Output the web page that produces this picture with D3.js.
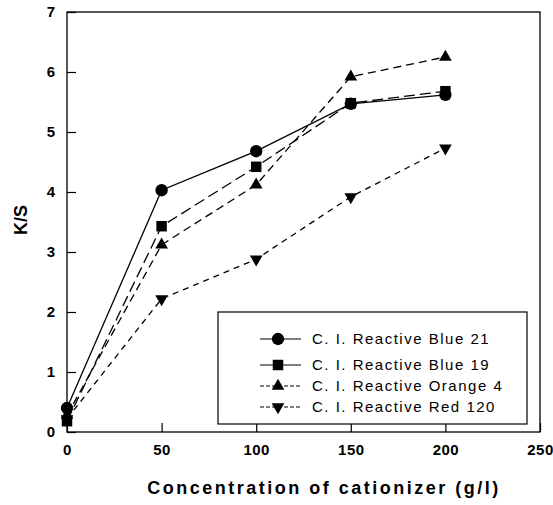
<!DOCTYPE html>
<html>
<head>
<meta charset="utf-8">
<script src="https://cdn.jsdelivr.net/npm/d3@7"></script>
<style>
  body { margin: 0; background: #fff; }
  text { font-family: "Liberation Sans", Arial, sans-serif; fill: #000; }
</style>
</head>
<body>
<div id="chart"></div>
<script>
var conc = [0, 50, 100, 150, 200]
var names = ["C. I. Reactive Blue 21", "C. I. Reactive Blue 19", "C. I. Reactive Orange 4", "C. I. Reactive Red 120"]
var blue21 = [0.40, 4.03, 4.68, 5.47, 5.62]
var blue19 = [0.18, 3.43, 4.42, 5.48, 5.68]
var orange4 = [0.28, 3.12, 4.12, 5.92, 6.25]
var red120 = [0.22, 2.22, 2.88, 3.92, 4.73]
var xTicks = [0, 50, 100, 150, 200, 250]
var yTicks = [0, 1, 2, 3, 4, 5, 6, 7]

var series = [
  {name: names[0], values: blue21, symbol: d3.symbolCircle, dash: null},
  {name: names[1], values: blue19, symbol: d3.symbolSquare, dash: "11,5"},
  {name: names[2], values: orange4, symbol: "up", dash: "8,5"},
  {name: names[3], values: red120, symbol: "down", dash: "6,5"}
]

var margin = {top: 12, right: 13, bottom: 73, left: 67},
    width = 553 - margin.left - margin.right,
    height = 505 - margin.top - margin.bottom;

var svg = d3.select("#chart").append("svg")
    .attr("width", 553)
    .attr("height", 505)
  .append("g")
    .attr("transform", "translate(" + margin.left + "," + margin.top + ")");

var xScale = d3.scaleLinear().domain([0, 250]).range([0, width])
var yScale = d3.scaleLinear().domain([0, 7]).range([height, 0])

// frame
svg.append("rect")
  .attr("width", width).attr("height", height)
  .attr("fill", "none").attr("stroke", "#000").attr("stroke-width", 1.3)

var xAxis = svg.append("g")
  .attr("transform", "translate(0," + height + ")")
  .call(d3.axisBottom(xScale).tickValues(xTicks).tickFormat(d3.format("d")).tickSizeInner(-9).tickSizeOuter(0).tickPadding(12))
var yAxis = svg.append("g")
  .call(d3.axisLeft(yScale).tickValues(yTicks).tickFormat(d3.format("d")).tickSizeInner(-9).tickSizeOuter(0).tickPadding(12))

;[xAxis, yAxis].forEach(function(a){
  a.select(".domain").remove()
  a.selectAll("line").attr("stroke", "#000").attr("stroke-width", 1.2)
  a.selectAll("text").attr("font-size", "15px").attr("font-weight", "bold")
    .style("font-family", "'Liberation Sans', Arial, sans-serif").attr("fill", "#000")
})
xAxis.selectAll("text").attr("letter-spacing", "0.5px")

// axis titles
svg.append("text")
  .attr("transform", "translate(" + (21 - margin.left) + "," + (220 - margin.top) + ") rotate(-90)")
  .attr("text-anchor", "middle").attr("dy", "0.35em")
  .attr("font-size", "18px").attr("font-weight", "bold")
  .text("K/S")

svg.append("text")
  .attr("x", 324 - margin.left).attr("y", 488 - margin.top)
  .attr("text-anchor", "middle").attr("dy", "0.35em")
  .attr("font-size", "18px").attr("font-weight", "bold")
  .attr("letter-spacing", "2.5px")
  .text("Concentration of cationizer (g/l)")

function symbolPath(sym){
  if (sym == "up") return d3.symbol().type(d3.symbolTriangle).size(70)()
  if (sym == "down") return d3.symbol().type(d3.symbolTriangle).size(70)()
  if (sym == d3.symbolSquare) return d3.symbol().type(sym).size(110)()
  return d3.symbol().type(sym).size(120)()
}
function symbolRot(sym){
  return sym == "down" ? " rotate(180)" : ""
}

var line = d3.line()
  .x(function(d, i){ return xScale(conc[i]) })
  .y(function(d){ return yScale(d) })

series.forEach(function(s){
  svg.append("path")
    .attr("d", line(s.values))
    .attr("fill", "none")
    .attr("stroke", "#000")
    .attr("stroke-width", 1.3)
    .attr("stroke-dasharray", s.dash)

  svg.selectAll(null)
    .data(s.values)
    .enter().append("path")
    .attr("d", symbolPath(s.symbol))
    .attr("transform", function(d, i){
      return "translate(" + xScale(conc[i]) + "," + yScale(d) + ")" + symbolRot(s.symbol)
    })
    .attr("fill", "#000")
})

// legend
var lg = svg.append("g").attr("transform", "translate(" + (218 - margin.left) + "," + (312 - margin.top) + ")")
lg.append("rect")
  .attr("width", 309).attr("height", 112)
  .attr("fill", "#fff").attr("stroke", "#000").attr("stroke-width", 1.2)

var rowY = [27, 53, 74, 95]
series.forEach(function(s, i){
  var g = lg.append("g").attr("transform", "translate(0," + rowY[i] + ")")
  g.append("line")
    .attr("x1", 42).attr("x2", 83)
    .attr("stroke", "#000").attr("stroke-width", 1.2)
    .attr("stroke-dasharray", i > 1 ? "4,2" : null)
  g.append("path")
    .attr("d", symbolPath(s.symbol))
    .attr("transform", "translate(60,0)" + symbolRot(s.symbol))
    .attr("fill", "#000")
  g.append("text")
    .attr("x", 94).attr("dy", "0.35em")
    .attr("font-size", "15px")
    .attr("letter-spacing", "1.5px")
    .text(s.name)
})
</script>
</body>
</html>
